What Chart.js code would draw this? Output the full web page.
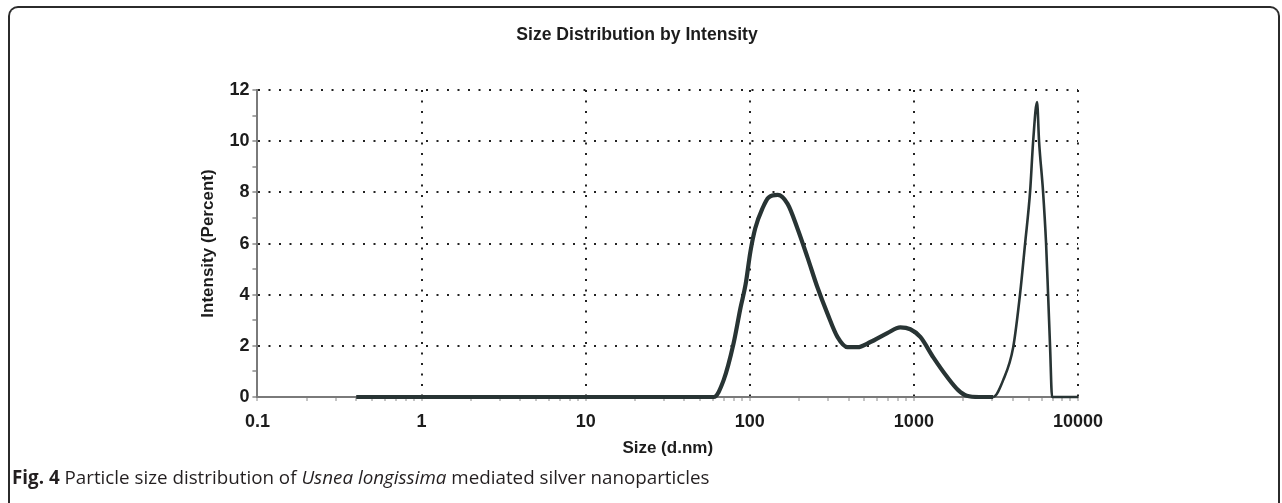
<!DOCTYPE html>
<html>
<head>
<meta charset="utf-8">
<script src="https://cdn.jsdelivr.net/npm/chart.js@4.4.0/dist/chart.umd.min.js"></script>
<style>
  body { margin: 0; background: #fff; width: 1282px; height: 503px; overflow: hidden; position: relative; }
  #frame { position: absolute; left: 8px; top: 6px; width: 1268px; height: 600px;
           border-top: 2px solid #2b2b2b; border-left: 2px solid #2b2b2b; border-right: 2px solid #2b2b2b;
           border-radius: 10px 10px 0 0; }
  #chart { position: absolute; left: 0; top: 0; }
  #caption { position: absolute; left: 12px; top: 464px; font-family: "Open Sans", sans-serif; font-size: 18.8px;
             color: #231f20; white-space: nowrap; }
</style>
</head>
<body>
<div id="frame"></div>
<canvas id="chart" width="1282" height="465"></canvas>
<div id="caption"><b>Fig. 4</b> Particle size distribution of <i>Usnea longissima</i> mediated silver nanoparticles</div>
<script>
// size (d.nm) and intensity (%)
const sizes = [0.4, 60.3, 69.3, 79.7, 87.9, 94.3, 101, 108, 120, 130, 148, 170, 195, 225, 258, 297, 342, 394, 453,
  543, 689, 826, 951, 1094, 1313, 1596, 1862, 2100, 2500, 3040, 3500, 4030, 4440, 4760, 5110, 5330, 5630,
  5790, 6120, 6390, 6570, 6760, 6950, 8000, 10000];
const intensity = [0, 0, 0.66, 2.1, 3.5, 4.4, 5.7, 6.6, 7.4, 7.8, 7.9, 7.55, 6.6, 5.45, 4.3, 3.27, 2.35, 1.95, 1.95,
  2.15, 2.5, 2.72, 2.65, 2.35, 1.55, 0.78, 0.27, 0.05, 0, 0, 0.66, 1.95, 4.05, 6.0, 8.06, 10.0, 11.53,
  10.0, 8.06, 6.0, 4.05, 1.95, 0, 0, 0];

const xTickValues = [0.1, 1, 10, 100, 1000, 10000];
const xTickLabels = ['0.1', '1', '10', '100', '1000', '10000'];
const yTickValues = [0, 2, 4, 6, 8, 10, 12];

// minor ticks 2..9 inside each decade
const xMinor = [];
xTickValues.slice(0, -1).forEach(d => { for (let k = 2; k < 10; k++) xMinor.push(d * k); });

const boldFont = { family: 'Liberation Sans', size: 18, weight: 'bold' };
const ink = '#1c1c1c';

new Chart(document.getElementById('chart').getContext('2d'), {
  type: 'line',
  data: {
    datasets: [{
      data: sizes.map((s, i) => ({ x: s, y: intensity[i] })),
      borderColor: '#283434',
      borderWidth: 4.2,
      pointRadius: 0,
      cubicInterpolationMode: 'monotone',
      segment: { borderWidth: c => c.p0.parsed.x > 3000 ? 2.6 : 4.2 },
      clip: false
    }]
  },
  options: {
    responsive: false,
    animation: false,
    layout: { padding: { left: 196, right: 204, top: 0, bottom: 6 } },
    plugins: {
      legend: { display: false },
      tooltip: { enabled: false },
      title: {
        display: true, text: 'Size Distribution by Intensity', color: ink,
        font: { family: 'Liberation Sans', size: 17.6, weight: 'bold' },
        padding: { top: 25, bottom: 44 }
      }
    },
    scales: {
      x: {
        type: 'logarithmic', min: 0.1, max: 10000,
        afterBuildTicks: s => {
          s.ticks = xTickValues.concat(xMinor).sort((a, b) => a - b).map(v => ({ value: v }));
        },
        ticks: {
          autoSkip: false, maxRotation: 0, padding: 10, color: ink, font: boldFont,
          callback: v => { const i = xTickValues.indexOf(v); return i >= 0 ? xTickLabels[i] : ''; }
        },
        grid: {
          color: c => (c.tick && xTickValues.includes(c.tick.value) && c.tick.value !== 0.1) ? '#222' : 'rgba(0,0,0,0)',
          lineWidth: 2, tickLength: 4, tickColor: '#8a8a8a', tickWidth: 1
        },
        border: { display: true, color: '#7a7a7a', width: 2, dash: [2, 8.5] },
        title: {
          display: true, text: 'Size (d.nm)', color: ink,
          font: { family: 'Liberation Sans', size: 17, weight: 'bold' },
          padding: { top: -4, bottom: 0 }
        }
      },
      y: {
        min: 0, max: 12,
        ticks: {
          stepSize: 1, padding: 3, color: ink, font: boldFont,
          callback: v => yTickValues.includes(v) ? String(v) : ''
        },
        grid: {
          color: c => (c.tick && yTickValues.includes(c.tick.value) && c.tick.value !== 0) ? '#222' : 'rgba(0,0,0,0)',
          lineWidth: 2, tickLength: 5, tickColor: '#8a8a8a', tickWidth: 1.5
        },
        border: { display: true, color: '#7a7a7a', width: 2, dash: [2, 8.5] },
        title: {
          display: true, text: 'Intensity (Percent)', color: ink,
          font: { family: 'Liberation Sans', size: 17, weight: 'bold' },
          padding: { top: 2, bottom: 8 }
        }
      }
    }
  }
});
</script>
</body>
</html>
